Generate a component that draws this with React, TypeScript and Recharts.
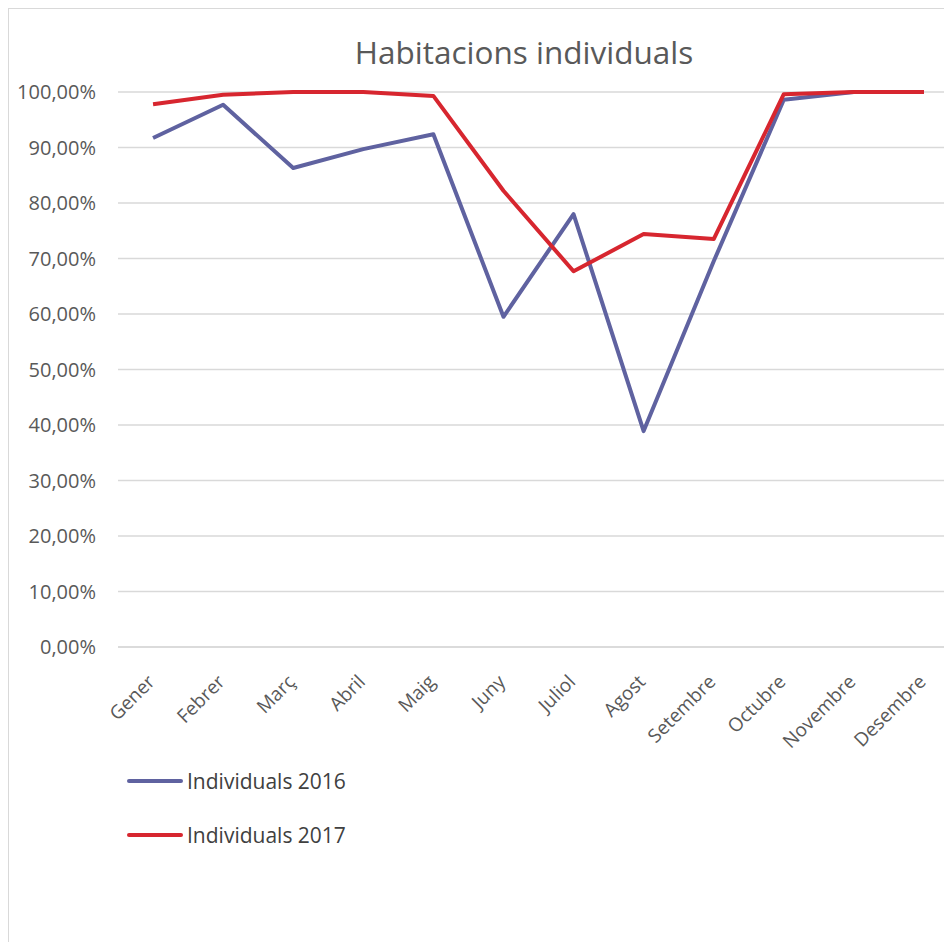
import React from "react";
import { LineChart, Line, XAxis, YAxis, CartesianGrid, Legend } from "recharts";

const months = ["Gener", "Febrer", "Març", "Abril", "Maig", "Juny", "Juliol", "Agost", "Setembre", "Octubre", "Novembre", "Desembre"];
const individuals2016 = [91.7, 97.7, 86.3, 89.7, 92.4, 59.5, 78.0, 38.9, 69.5, 98.6, 100, 100];
const individuals2017 = [97.8, 99.5, 100, 100, 99.3, 82.2, 67.7, 74.4, 73.5, 99.6, 100, 100];
const yTicks = [0, 10, 20, 30, 40, 50, 60, 70, 80, 90, 100];

const series = [
  { key: "Individuals 2016", color: "#5f62a0" },
  { key: "Individuals 2017", color: "#d7262f" },
];

const data = months.map((m, i) => ({
  month: m,
  "Individuals 2016": individuals2016[i],
  "Individuals 2017": individuals2017[i],
}));

const FONT = "'Open Sans', sans-serif";

const fmt = (v: number) => v.toFixed(2).replace(".", ",") + "%";

const XTick = (props: any) => {
  const { x, y, payload } = props;
  const ax = x + 3;
  const ay = y + 28;
  return (
    <text x={ax} y={ay} transform={`rotate(-45, ${ax}, ${ay})`} textAnchor="end" fill="#595959" fontSize={19} fontFamily={FONT}>
      {payload.value}
    </text>
  );
};

const LegendContent = () => (
  <div style={{ fontFamily: FONT }}>
    {series.map((s) => (
      <div key={s.key} style={{ display: "flex", alignItems: "center", height: 54 }}>
        <svg width={56} height={10} style={{ display: "block" }}>
          <line x1={2} y1={5} x2={54} y2={5} stroke={s.color} strokeWidth={4} strokeLinecap="round" />
        </svg>
        <span style={{ fontSize: 21, color: "#404040", marginLeft: 4 }}>{s.key}</span>
      </div>
    ))}
  </div>
);

export default function App() {
  return (
    <div
      style={{
        position: "relative",
        width: 944,
        height: 934,
        overflow: "hidden",
        borderTop: "1px solid #d9d9d9",
        borderLeft: "1px solid #d9d9d9",
        background: "#fff",
        boxSizing: "border-box",
      }}
    >
      <div
        style={{
          position: "absolute",
          left: 0,
          width: 1030,
          top: 23,
          textAlign: "center",
          fontFamily: FONT,
          fontSize: 31.5,
          color: "#595959",
          lineHeight: "40px",
        }}
      >
        Habitacions individuals
      </div>
      <LineChart width={980} height={933} data={data} margin={{ top: 83, right: 30, left: 0, bottom: 195 }}>
        <CartesianGrid vertical={false} stroke="#d9d9d9" strokeWidth={1.3} />
        <XAxis
          dataKey="month"
          height={100}
          scale="band"
          tick={<XTick />}
          tickLine={false}
          axisLine={{ stroke: "#d9d9d9", strokeWidth: 1.3 }}
          interval={0}
        />
        <YAxis
          width={109}
          domain={[0, 100]}
          ticks={yTicks}
          tickFormatter={fmt}
          axisLine={false}
          tickLine={false}
          tickMargin={16}
          tick={{ fill: "#595959", fontSize: 20, fontFamily: FONT }}
        />
        <Legend
          layout="vertical"
          align="center"
          verticalAlign="middle"
          content={<LegendContent />}
          wrapperStyle={{ position: "absolute", left: 118, top: 745, width: 300 }}
        />
        {series.map((s) => (
          <Line
            key={s.key}
            type="linear"
            dataKey={s.key}
            stroke={s.color}
            strokeWidth={4}
            dot={false}
            activeDot={false}
            strokeLinejoin="round"
            isAnimationActive={false}
          />
        ))}
      </LineChart>
    </div>
  );
}
